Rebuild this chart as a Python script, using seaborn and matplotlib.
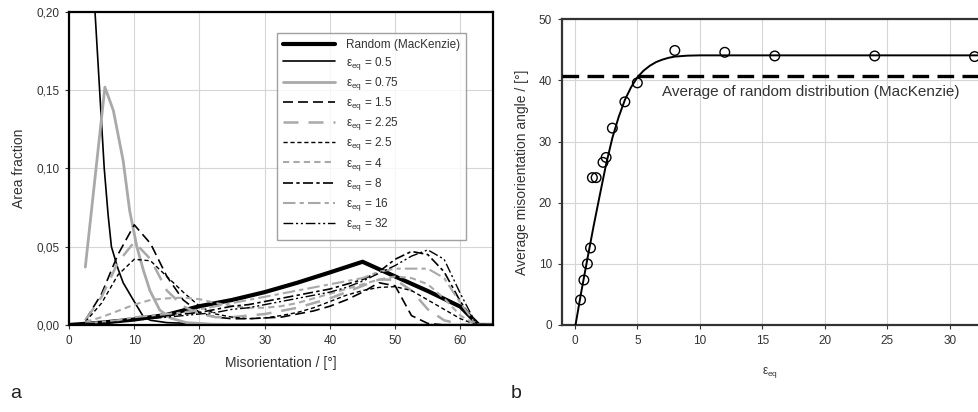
import matplotlib
matplotlib.use('Agg')
import matplotlib.pyplot as plt
import seaborn as sns
import pandas as pd

# ---------------- Panel a data ----------------
random_x = [0, 5, 10, 15, 20, 25, 30, 35, 40, 45, 50, 55, 60, 62.8, 65]
random_y = [0, 0.0015, 0.0035, 0.0065, 0.012, 0.016, 0.021, 0.027, 0.0336, 0.0404,
            0.031, 0.0217, 0.0117, 0.0, 0.0]

e05_x = [2.5, 5.4, 6.0, 6.5, 7.5, 8.3, 9.85, 11.4, 12.5, 15, 20, 25, 40, 62.5, 65]
e05_y = [0.305, 0.100, 0.070, 0.050, 0.036, 0.027, 0.016, 0.0053, 0.003, 0.0015,
         0.0008, 0.0005, 0.0002, 0.0, 0.0]

e075_x = [2.5, 5.5, 6.8, 8.3, 9.3, 10.4, 11.4, 12.4, 13.9, 15.5, 18, 22, 30, 62.5, 65]
e075_y = [0.037, 0.152, 0.137, 0.105, 0.073, 0.050, 0.035, 0.022, 0.0096, 0.0045,
          0.0015, 0.0005, 0.0002, 0.0, 0.0]

bins_x = [2.5, 5, 7.5, 10, 12.5, 15, 17.5, 20, 22.5, 25, 27.5, 30, 32.5, 35, 37.5,
          40, 42.5, 45, 47.5, 50, 52.5, 55, 57.5, 60, 62.5, 65]

e15_y = [0.003, 0.020, 0.045, 0.064, 0.052, 0.031, 0.016, 0.008, 0.005, 0.004, 0.004,
         0.0045, 0.005, 0.007, 0.009, 0.012, 0.016, 0.021, 0.027, 0.025, 0.006, 0.001,
         0.0, 0.0, 0.0, 0.0]
e225_y = [0.003, 0.018, 0.040, 0.053, 0.042, 0.022, 0.012, 0.007, 0.005, 0.005, 0.006,
          0.007, 0.009, 0.011, 0.014, 0.017, 0.021, 0.025, 0.029, 0.029, 0.022, 0.010,
          0.003, 0.0005, 0.0, 0.0]
e25_y = [0.002, 0.014, 0.032, 0.042, 0.041, 0.031, 0.021, 0.012, 0.007, 0.005, 0.004,
         0.0045, 0.006, 0.008, 0.011, 0.015, 0.019, 0.022, 0.024, 0.0245, 0.022, 0.016,
         0.010, 0.004, 0.0, 0.0]
e4_y = [0.002, 0.005, 0.009, 0.013, 0.016, 0.017, 0.0175, 0.0165, 0.014, 0.012, 0.011,
        0.011, 0.012, 0.014, 0.017, 0.020, 0.023, 0.026, 0.029, 0.031, 0.030, 0.026,
        0.017, 0.006, 0.0, 0.0]
e8_y = [0.001, 0.002, 0.003, 0.004, 0.005, 0.006, 0.007, 0.008, 0.010, 0.012, 0.013,
        0.015, 0.017, 0.019, 0.021, 0.023, 0.026, 0.029, 0.034, 0.042, 0.047, 0.045,
        0.034, 0.015, 0.0, 0.0]
e16_y = [0.001, 0.002, 0.003, 0.005, 0.006, 0.007, 0.008, 0.010, 0.012, 0.014, 0.016,
         0.018, 0.020, 0.022, 0.024, 0.026, 0.028, 0.030, 0.034, 0.036, 0.036, 0.036,
         0.030, 0.014, 0.0, 0.0]
e32_y = [0.001, 0.001, 0.002, 0.003, 0.004, 0.005, 0.006, 0.007, 0.008, 0.010, 0.011,
         0.013, 0.015, 0.017, 0.019, 0.021, 0.024, 0.028, 0.033, 0.038, 0.044, 0.048,
         0.042, 0.020, 0.0, 0.0]

a_xticks = [0, 10, 20, 30, 40, 50, 60]
a_yticks = [0.0, 0.05, 0.10, 0.15, 0.20]
a_yticklabels = ['0,00', '0,05', '0,10', '0,15', '0,20']

# ---------------- Panel b data ----------------
pts_x = [0.45, 0.72, 1.0, 1.25, 1.4, 1.7, 2.25, 2.5, 3.0, 4.0, 5.0, 8, 12, 16, 24, 32]
pts_y = [4.1, 7.35, 10.0, 12.6, 24.1, 24.1, 26.6, 27.4, 32.2, 36.5, 39.6, 44.9, 44.6,
         44.0, 44.0, 43.9]

fit_x = [0.05, 0.5, 1, 1.5, 2, 2.5, 3, 3.5, 4, 4.5, 5, 5.5, 6, 6.5, 7, 7.5, 8, 9, 10,
         12, 16, 24, 32.4]
fit_y = [0, 5.3, 10.8, 16.2, 21.3, 26.3, 30.6, 34.0, 36.8, 38.9, 40.5, 41.6, 42.4,
         43.0, 43.4, 43.7, 43.9, 44.05, 44.1, 44.1, 44.1, 44.1, 44.1]

random_avg = 40.8
b_xticks = [0, 5, 10, 15, 20, 25, 30]
b_yticks = [0, 10, 20, 30, 40, 50]

# ---------------- style ----------------
sns.set_theme(style='ticks')
plt.rcParams['font.family'] = ['Liberation Sans', 'DejaVu Sans']
plt.rcParams['mathtext.fontset'] = 'custom'
plt.rcParams['mathtext.rm'] = 'Liberation Sans'
plt.rcParams['mathtext.it'] = 'Liberation Sans:italic'

TXT = '#333333'
GRID = '#d6d6d6'
GRAY = '#a9a9a9'

fig = plt.figure(figsize=(9.79, 4.12), dpi=100)
ax1 = fig.add_axes([0.0705, 0.2112, 0.4331, 0.7597])
ax2 = fig.add_axes([0.5737, 0.2112, 0.4263, 0.742])

def eq(v):
    return 'ε$_{\\mathrm{eq}}$ = ' + v

series = [
    (random_x, random_y, 'Random (MacKenzie)', 'black', 3.0, '-'),
    (e05_x, e05_y, eq('0.5'), 'black', 1.2, '-'),
    (e075_x, e075_y, eq('0.75'), GRAY, 2.0, '-'),
    (bins_x, e15_y, eq('1.5'), 'black', 1.2, (0, (6, 3))),
    (bins_x, e225_y, eq('2.25'), GRAY, 1.8, (0, (6, 4))),
    (bins_x, e25_y, eq('2.5'), 'black', 1.0, (0, (3, 2))),
    (bins_x, e4_y, eq('4'), GRAY, 1.5, (0, (3, 2))),
    (bins_x, e8_y, eq('8'), 'black', 1.2, (0, (6, 2, 2, 2))),
    (bins_x, e16_y, eq('16'), GRAY, 1.5, (0, (6, 2, 2, 2))),
    (bins_x, e32_y, eq('32'), 'black', 1.0, (0, (7, 2, 1.5, 2, 1.5, 2))),
]

for xs, ys, lab, col, lw, ls in series:
    df = pd.DataFrame({'x': xs, 'y': ys})
    sns.lineplot(data=df, x='x', y='y', ax=ax1, color=col, lw=lw, linestyle=ls,
                 label=lab, sort=False, estimator=None)

ax1.set_xlim(0, 65)
ax1.set_ylim(0, 0.20)
ax1.set_xticks(a_xticks)
ax1.set_xticklabels([str(t) for t in a_xticks])
ax1.set_yticks(a_yticks)
ax1.set_yticklabels(a_yticklabels)
ax1.grid(True, color=GRID, lw=0.8)
ax1.set_axisbelow(True)
ax1.set_xlabel('Misorientation / [°]', fontsize=10, color=TXT, labelpad=7)
ax1.set_ylabel('Area fraction', fontsize=10, color=TXT, labelpad=7)
for s in ax1.spines.values():
    s.set_color('black')
    s.set_linewidth(1.6)
    s.set_visible(True)
ax1.tick_params(direction='out', length=3, width=0.8, colors=TXT, labelsize=8.5, pad=4)

leg = ax1.legend(loc='upper left', bbox_to_anchor=(0.49, 0.933), borderaxespad=0,
                 fontsize=8.5, handlelength=4.4, handletextpad=0.9, labelspacing=0.27,
                 frameon=True, fancybox=False, edgecolor='#8a8a8a', borderpad=0.55)
leg.get_frame().set_linewidth(1.0)
for t in leg.get_texts():
    t.set_color(TXT)

# ---------------- panel b ----------------
ax2.axhline(random_avg, color='black', lw=2.4, linestyle=(0, (5, 2.5)), zorder=3)
sns.lineplot(x=fit_x, y=fit_y, ax=ax2, color='black', lw=1.4, sort=False,
             estimator=None, zorder=4)
sns.scatterplot(x=pts_x, y=pts_y, ax=ax2, s=48, marker='o', facecolor='none',
                edgecolor='black', linewidth=1.0, zorder=5)

ax2.set_xlim(-1.06, 32.35)
ax2.set_ylim(0, 50)
ax2.set_xticks(b_xticks)
ax2.set_xticklabels([str(t) for t in b_xticks])
ax2.set_yticks(b_yticks)
ax2.set_yticklabels([str(t) for t in b_yticks])
ax2.grid(True, color=GRID, lw=0.8)
ax2.set_axisbelow(True)
ax2.text(6.94, 38.1, 'Average of random distribution (MacKenzie)', fontsize=11,
         color=TXT, va='center', ha='left')
ax2.set_xlabel('ε$_{\\mathrm{eq}}$', fontsize=8.5, color=TXT, labelpad=13)
ax2.set_ylabel('Average misorientation angle / [°]', fontsize=10, color=TXT, labelpad=7)
for k, s in ax2.spines.items():
    s.set_color('#333333')
    s.set_linewidth(1.6)
ax2.spines['right'].set_visible(False)
ax2.tick_params(direction='out', length=3, width=0.8, colors=TXT, labelsize=8.5, pad=4)

fig.text(0.010, 0.035, 'a', fontsize=14, color='#222222')
fig.text(0.522, 0.035, 'b', fontsize=14, color='#222222')

fig.savefig('out.png', dpi=100)
